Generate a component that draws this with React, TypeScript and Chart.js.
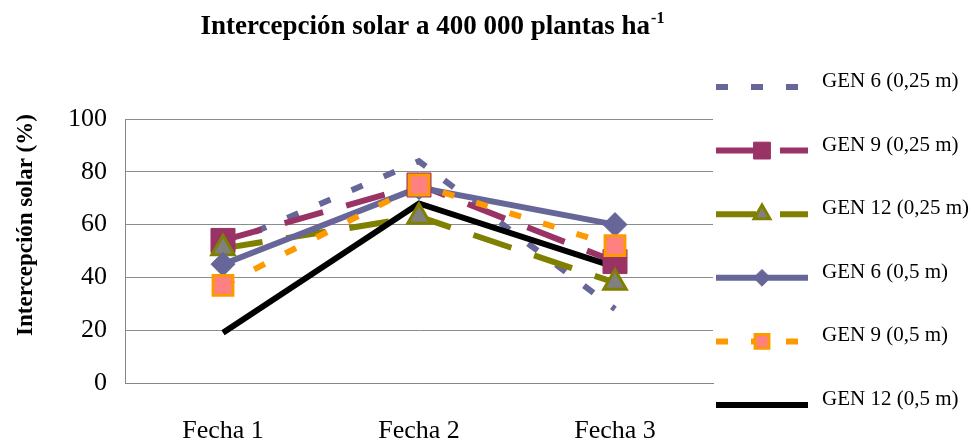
import React, { useEffect, useRef } from 'react';
import { Chart, registerables } from 'chart.js';

Chart.register(...registerables);

const categories = ['Fecha 1', 'Fecha 2', 'Fecha 3'];
const seriesNames = [
  'GEN 6 (0,25 m)',
  'GEN 9 (0,25 m)',
  'GEN 12 (0,25 m)',
  'GEN 6 (0,5 m)',
  'GEN 9 (0,5 m)',
  'GEN 12 (0,5 m)',
];
const gen6_025 = [52, 84, 28];
const gen9_025 = [54, 75, 46];
const gen12_025 = [51, 63, 38];
const gen6_05 = [45, 74, 60];
const gen9_05 = [37, 75, 52];
const gen12_05 = [19, 68, 44];
const yTickMin = 0;
const yTickMax = 100;
const yTickStep = 20;

const chartTitle = 'Intercepción solar a 400 000 plantas ha';
const chartTitleSup = '-1';
const yTitle = 'Intercepción solar (%)';

const FONT = '"Liberation Serif", "Times New Roman", serif';

type Marker = { style: string; r: number; fill: string; stroke: string; bw: number } | null;
const styles: { color: string; dash: number[]; marker: Marker }[] = [
  { color: '#666699', dash: [12, 23], marker: null },
  { color: '#993366', dash: [40, 24], marker: { style: 'rect', r: 17, fill: '#993366', stroke: '#993366', bw: 1 } },
  { color: '#808000', dash: [40, 24], marker: { style: 'triangle', r: 13, fill: '#808080', stroke: '#808000', bw: 3 } },
  { color: '#666699', dash: [], marker: { style: 'rectRot', r: 12, fill: '#666699', stroke: '#666699', bw: 1 } },
  { color: '#FF9900', dash: [12, 23], marker: { style: 'rect', r: 14, fill: '#FF8080', stroke: '#FF9900', bw: 3 } },
  { color: '#000000', dash: [], marker: null },
];

const seriesData = [gen6_025, gen9_025, gen12_025, gen6_05, gen9_05, gen12_05];

function drawMarker(ctx: CanvasRenderingContext2D, m: NonNullable<Marker>, x: number, y: number, scale: number) {
  const r = m.r * scale;
  ctx.save();
  ctx.setLineDash([]);
  ctx.fillStyle = m.fill;
  ctx.strokeStyle = m.stroke;
  ctx.lineWidth = m.bw;
  ctx.beginPath();
  if (m.style === 'rect') {
    const s = Math.SQRT1_2 * r;
    ctx.rect(x - s, y - s, 2 * s, 2 * s);
  } else if (m.style === 'triangle') {
    let rad = 0;
    ctx.moveTo(x + Math.sin(rad) * r, y - Math.cos(rad) * r);
    rad += (2 * Math.PI) / 3;
    ctx.lineTo(x + Math.sin(rad) * r, y - Math.cos(rad) * r);
    rad += (2 * Math.PI) / 3;
    ctx.lineTo(x + Math.sin(rad) * r, y - Math.cos(rad) * r);
    ctx.closePath();
  } else if (m.style === 'rectRot') {
    ctx.moveTo(x, y - r);
    ctx.lineTo(x + r, y);
    ctx.lineTo(x, y + r);
    ctx.lineTo(x - r, y);
    ctx.closePath();
  }
  ctx.fill();
  ctx.stroke();
  ctx.restore();
}

const overlayPlugin = {
  id: 'overlay',
  afterDraw(chart: any) {
    const ctx: CanvasRenderingContext2D = chart.ctx;
    ctx.save();
    ctx.fillStyle = '#000';
    ctx.textAlign = 'left';
    ctx.textBaseline = 'alphabetic';
    // Title with superscript
    ctx.font = `bold 27px ${FONT}`;
    const mw = ctx.measureText(chartTitle).width;
    ctx.font = `bold 16px ${FONT}`;
    const sw = ctx.measureText(chartTitleSup).width;
    const x0 = 432 - (mw + sw) / 2;
    ctx.font = `bold 27px ${FONT}`;
    ctx.fillText(chartTitle, x0, 34);
    ctx.font = `bold 16px ${FONT}`;
    ctx.fillText(chartTitleSup, x0 + mw + 1, 23);

    // Y axis title
    ctx.save();
    ctx.translate(32, 225);
    ctx.rotate(-Math.PI / 2);
    ctx.textAlign = 'center';
    ctx.font = `bold 23px ${FONT}`;
    ctx.fillText(yTitle, 0, 0);
    ctx.restore();

    // Legend
    for (let i = 0; i < seriesNames.length; i++) {
      const st = styles[i];
      const ly = 87 + i * 63.6;
      ctx.save();
      ctx.strokeStyle = st.color;
      ctx.lineWidth = 6;
      ctx.setLineDash(st.dash);
      ctx.lineCap = 'butt';
      ctx.beginPath();
      ctx.moveTo(716, ly);
      ctx.lineTo(808, ly);
      ctx.stroke();
      ctx.restore();
      if (st.marker) drawMarker(ctx, st.marker, 762, ly, 0.7);
      ctx.fillStyle = '#000';
      ctx.font = `21px ${FONT}`;
      ctx.textAlign = 'left';
      ctx.textBaseline = 'alphabetic';
      ctx.fillText(seriesNames[i], 822, ly);
    }
    ctx.restore();
  },
};

export default function App() {
  const canvasRef = useRef<HTMLCanvasElement | null>(null);

  useEffect(() => {
    if (!canvasRef.current) return;
    const lineSets = seriesData.map((d, i) => ({
      label: seriesNames[i],
      data: d,
      borderColor: styles[i].color,
      backgroundColor: styles[i].color,
      borderWidth: 6,
      borderDash: styles[i].dash,
      borderCapStyle: 'butt' as const,
      pointRadius: 0,
      pointHoverRadius: 0,
      tension: 0,
      fill: false,
      order: 100 - i,
    }));
    const markerSets = seriesData
      .map((d, i) => ({ d, i }))
      .filter(({ i }) => styles[i].marker)
      .map(({ d, i }) => {
        const m = styles[i].marker as NonNullable<Marker>;
        return {
          label: seriesNames[i] + ' marker',
          data: d,
          showLine: false,
          pointStyle: m.style,
          pointRadius: m.r,
          pointHoverRadius: m.r,
          pointBackgroundColor: m.fill,
          pointBorderColor: m.stroke,
          pointBorderWidth: m.bw,
          borderColor: m.stroke,
          backgroundColor: m.fill,
          order: 50 - i,
        };
      });

    const chart = new Chart(canvasRef.current, {
      type: 'line',
      data: { labels: categories, datasets: [...lineSets, ...markerSets] as any },
      options: {
        animation: false,
        responsive: false,
        devicePixelRatio: 1,
        events: [],
        layout: { padding: { left: 0, right: 262, top: 119, bottom: 0 } },
        plugins: {
          legend: { display: false },
          title: { display: false },
          tooltip: { enabled: false },
        },
        scales: {
          x: {
            offset: true,
            grid: { display: false, drawTicks: false },
            border: { display: true, color: '#868686', width: 1 },
            ticks: {
              color: '#000',
              font: { family: FONT, size: 26 },
              padding: 33,
              maxRotation: 0,
            },
            afterFit: (scale: any) => {
              scale.height = 60;
            },
          },
          y: {
            min: yTickMin,
            max: yTickMax,
            ticks: {
              stepSize: yTickStep,
              color: '#000',
              font: { family: FONT, size: 26 },
              padding: 18,
            },
            grid: { color: '#8c8c8c', lineWidth: 1, drawTicks: false },
            border: { display: true, color: '#868686', width: 1 },
            afterFit: (scale: any) => {
              scale.width = 125;
            },
          },
        },
      },
      plugins: [overlayPlugin],
    });
    return () => chart.destroy();
  }, []);

  return (
    <div style={{ position: 'fixed', left: 0, top: 0, width: 975, height: 443, background: '#fff' }}>
      <canvas ref={canvasRef} width={975} height={443} style={{ display: 'block' }} />
    </div>
  );
}
